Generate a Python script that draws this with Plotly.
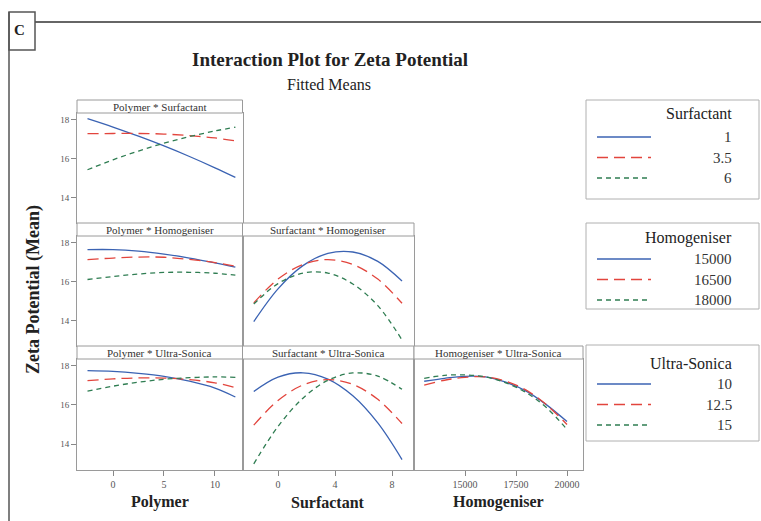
import plotly.graph_objects as go

W, H = 761, 521

# ---------------- data ----------------
polymer_x = [-2.5, 0, 2.5, 5, 7.5, 10, 12]
surfactant_x = [-1.7, 0, 1.75, 3.5, 5.25, 7, 8.7]
homogeniser_x = [13000, 14000, 15000, 16000, 17000, 18000, 19000, 20000]

surfactant_levels = ["1", "3.5", "6"]
homogeniser_levels = ["15000", "16500", "18000"]
ultrasonica_levels = ["10", "12.5", "15"]

# Polymer * Surfactant (Surfactant = 1, 3.5, 6)
poly_surf_1 = [18.04, 17.61, 17.14, 16.64, 16.10, 15.52, 15.03]
poly_surf_35 = [17.27, 17.28, 17.28, 17.25, 17.17, 17.05, 16.90]
poly_surf_6 = [15.42, 15.93, 16.38, 16.78, 17.12, 17.41, 17.60]

# Polymer * Homogeniser (15000, 16500, 18000)
poly_hom_15000 = [17.63, 17.63, 17.55, 17.40, 17.20, 16.95, 16.73]
poly_hom_16500 = [17.12, 17.20, 17.25, 17.24, 17.13, 16.97, 16.78]
poly_hom_18000 = [16.10, 16.25, 16.38, 16.46, 16.47, 16.42, 16.32]

# Surfactant * Homogeniser
surf_hom_15000 = [13.94, 15.62, 16.81, 17.44, 17.51, 17.03, 16.02]
surf_hom_16500 = [14.90, 16.12, 16.87, 17.12, 16.87, 16.12, 14.88]
surf_hom_18000 = [14.84, 15.89, 16.43, 16.43, 15.87, 14.76, 13.00]

# Polymer * Ultra-Sonica (10, 12.5, 15)
poly_us_10 = [17.74, 17.70, 17.60, 17.45, 17.20, 16.85, 16.40]
poly_us_125 = [17.23, 17.32, 17.37, 17.36, 17.28, 17.12, 16.88]
poly_us_15 = [16.70, 16.95, 17.15, 17.30, 17.38, 17.42, 17.40]

# Surfactant * Ultra-Sonica
surf_us_10 = [16.68, 17.41, 17.63, 17.31, 16.46, 15.08, 13.22]
surf_us_125 = [14.97, 16.22, 17.01, 17.28, 17.04, 16.28, 15.05]
surf_us_15 = [13.00, 14.90, 16.34, 17.25, 17.62, 17.46, 16.79]

# Homogeniser * Ultra-Sonica
hom_us_10 = [17.20, 17.35, 17.45, 17.42, 17.15, 16.70, 16.00, 15.15]
hom_us_125 = [17.00, 17.25, 17.40, 17.42, 17.20, 16.75, 16.00, 15.00]
hom_us_15 = [17.35, 17.50, 17.52, 17.42, 17.12, 16.62, 15.85, 14.75]

# ---------------- layout helpers ----------------
def fx(px):
    return px / W


def fy(py):
    return 1 - py / H


SERIF = "Liberation Serif, Times New Roman, serif"
COLORS = ["#3b63b3", "#e2453d", "#2f7d52"]
DASHES = ["solid", "11px,6px", "5px,4px"]
BORDER = "#9a9a9a"

col_px = [(77, 242.5), (242.5, 414), (414, 583)]
row_px = [(100, 223), (223, 346), (346, 470)]
STRIP = 13

x_settings = {
    "Polymer": dict(range=[-3.53, 12.7], tickvals=[0, 5, 10], ticktext=["0", "5", "10"]),
    "Surfactant": dict(range=[-2.49, 9.54], tickvals=[0, 4, 8], ticktext=["0", "4", "8"]),
    "Homogeniser": dict(range=[12500, 20784], tickvals=[15000, 17500, 20000],
                        ticktext=["15000", "17500", "20000"]),
}
x_values = {"Polymer": polymer_x, "Surfactant": surfactant_x, "Homogeniser": homogeniser_x}
y_range = [12.69, 18.33]

panels = [
    (0, 0, "Polymer", "Polymer * Surfactant", [poly_surf_1, poly_surf_35, poly_surf_6]),
    (1, 0, "Polymer", "Polymer * Homogeniser", [poly_hom_15000, poly_hom_16500, poly_hom_18000]),
    (1, 1, "Surfactant", "Surfactant * Homogeniser", [surf_hom_15000, surf_hom_16500, surf_hom_18000]),
    (2, 0, "Polymer", "Polymer * Ultra-Sonica", [poly_us_10, poly_us_125, poly_us_15]),
    (2, 1, "Surfactant", "Surfactant * Ultra-Sonica", [surf_us_10, surf_us_125, surf_us_15]),
    (2, 2, "Homogeniser", "Homogeniser * Ultra-Sonica", [hom_us_10, hom_us_125, hom_us_15]),
]

fig = go.Figure()
layout = dict(
    width=W, height=H, autosize=False,
    margin=dict(l=0, r=0, t=0, b=0),
    paper_bgcolor="white", plot_bgcolor="white",
    showlegend=False,
    font=dict(family=SERIF, color="#222"),
)
shapes = []
annotations = []

for i, (r, c, xkey, strip_title, series) in enumerate(panels):
    n = i + 1
    xa = "x%d" % n
    ya = "y%d" % n
    for k, vals in enumerate(series):
        fig.add_trace(go.Scatter(
            x=x_values[xkey], y=vals, mode="lines", xaxis=xa, yaxis=ya,
            line=dict(color=COLORS[k], width=1.3, dash=DASHES[k], shape="spline"),
        ))
    l, rr = col_px[c]
    top, bot = row_px[r]
    show_x = r == 2
    show_y = c == 0
    layout["xaxis%d" % n] = dict(
        domain=[fx(l), fx(rr)], anchor=ya, showgrid=False, zeroline=False,
        showline=True, mirror=True, linecolor=BORDER, linewidth=1,
        ticks="outside" if show_x else "", ticklen=5, tickcolor="#888",
        showticklabels=show_x, tickfont=dict(size=10, color="#555", family=SERIF),
        **x_settings[xkey],
    )
    layout["yaxis%d" % n] = dict(
        domain=[fy(bot), fy(top + STRIP)], anchor=xa, range=y_range,
        showgrid=False, zeroline=False,
        showline=True, mirror=True, linecolor=BORDER, linewidth=1,
        tickvals=[14, 16, 18], ticktext=["14", "16", "18"],
        ticks="outside" if show_y else "", ticklen=5, tickcolor="#888",
        showticklabels=show_y, tickfont=dict(size=9, color="#555", family=SERIF),
    )
    shapes.append(dict(type="rect", xref="paper", yref="paper",
                       x0=fx(l), x1=fx(rr), y0=fy(top + STRIP), y1=fy(top),
                       line=dict(color=BORDER, width=1), fillcolor="white"))
    annotations.append(dict(text=strip_title, xref="paper", yref="paper",
                            x=fx((l + rr) / 2), y=fy(top + STRIP / 2),
                            xanchor="center", yanchor="middle", showarrow=False,
                            font=dict(size=11, family=SERIF, color="#333")))

# x-axis titles
for c, name in enumerate(["Polymer", "Surfactant", "Homogeniser"]):
    l, rr = col_px[c]
    annotations.append(dict(text="<b>%s</b>" % name, xref="paper", yref="paper",
                            x=fx((l + rr) / 2), y=fy(502), xanchor="center", yanchor="middle",
                            showarrow=False, font=dict(size=16, family=SERIF, color="#222")))

# y-axis title
annotations.append(dict(text="<b>Zeta Potential (Mean)</b>", xref="paper", yref="paper",
                        x=fx(33), y=fy(290), xanchor="center", yanchor="middle", textangle=-90,
                        showarrow=False, font=dict(size=18, family=SERIF, color="#222")))

# titles
annotations.append(dict(text="<b>Interaction Plot for Zeta Potential</b>", xref="paper", yref="paper",
                        x=fx(330), y=fy(60), xanchor="center", yanchor="middle", showarrow=False,
                        font=dict(size=19, family=SERIF, color="#222")))
annotations.append(dict(text="Fitted Means", xref="paper", yref="paper",
                        x=fx(329), y=fy(85), xanchor="center", yanchor="middle", showarrow=False,
                        font=dict(size=16, family=SERIF, color="#222")))

# legends
legend_boxes = [
    ("Surfactant", surfactant_levels, 100, 199, 114, 137),
    ("Homogeniser", homogeniser_levels, 223, 309, 238, 259),
    ("Ultra-Sonica", ultrasonica_levels, 345, 441, 363, 384),
]
for title, levels, btop, bbot, hy, iy in legend_boxes:
    shapes.append(dict(type="rect", xref="paper", yref="paper",
                       x0=fx(586), x1=fx(759), y0=fy(bbot), y1=fy(btop),
                       line=dict(color="#b0b0b0", width=1)))
    annotations.append(dict(text=title, xref="paper", yref="paper", x=fx(734), y=fy(hy),
                            xanchor="right", yanchor="middle", showarrow=False,
                            font=dict(size=16, family=SERIF, color="#222")))
    for k, lev in enumerate(levels):
        yy = iy + 20.5 * k
        shapes.append(dict(type="line", xref="paper", yref="paper",
                           x0=fx(597), x1=fx(651), y0=fy(yy), y1=fy(yy),
                           line=dict(color=COLORS[k], width=1.3, dash=DASHES[k])))
        annotations.append(dict(text=lev, xref="paper", yref="paper", x=fx(734), y=fy(yy),
                                xanchor="right", yanchor="middle", showarrow=False,
                                font=dict(size=15, family=SERIF, color="#333")))

# outer frame and "C" label
shapes.append(dict(type="line", xref="paper", yref="paper", x0=fx(9), x1=fx(9),
                   y0=fy(12), y1=fy(521), line=dict(color="#555", width=1.5)))
shapes.append(dict(type="line", xref="paper", yref="paper", x0=fx(35), x1=fx(761),
                   y0=fy(22), y1=fy(22), line=dict(color="#666", width=2)))
shapes.append(dict(type="rect", xref="paper", yref="paper", x0=fx(9), x1=fx(35),
                   y0=fy(50), y1=fy(12), line=dict(color="#555", width=1.5)))
annotations.append(dict(text="<b>C</b>", xref="paper", yref="paper", x=fx(19), y=fy(30),
                        xanchor="center", yanchor="middle", showarrow=False,
                        font=dict(size=15, family=SERIF, color="#222")))

layout["shapes"] = shapes
layout["annotations"] = annotations
fig.update_layout(**layout)
fig.write_html("out.html")
